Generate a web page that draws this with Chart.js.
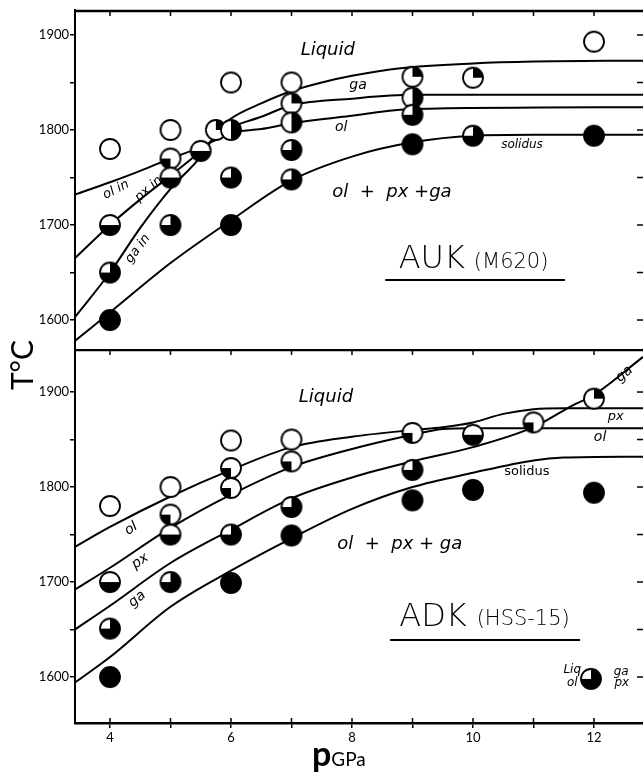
<!DOCTYPE html>
<html>
<head>
<meta charset="utf-8">
<script src="https://cdn.jsdelivr.net/npm/chart.js@4.4.1/dist/chart.umd.min.js"></script>
<style>
body { margin: 0; background: #fff; }
#wrap { position: relative; width: 643px; height: 774px; overflow: hidden; }
#topChart { position: absolute; left: 0; top: 0; }
#botChart { position: absolute; left: 0; top: 349px; }
#ylab { position: absolute; left: -15px; top: 348px; width: 70px; height: 34px; line-height: 34px;
        text-align: center; font: 30px Lato, sans-serif; transform: rotate(-90deg); }
#xlab { position: absolute; left: 312px; top: 736px; font-family: Lato, sans-serif; line-height: 34px; }
#xlab .p { font-size: 34px; font-weight: bold; }
#xlab .g { font-size: 19px; }
</style>
</head>
<body>
<div id="wrap">
  <canvas id="topChart" width="643" height="349"></canvas>
  <canvas id="botChart" width="643" height="425"></canvas>
  <div id="ylab">T°C</div>
  <div id="xlab"><span class="p">p</span><span class="g">GPa</span></div>
</div>
<script>
// axes
var xTicks = [4, 5, 6, 7, 8, 9, 10, 11, 12];
var xLabels = [4, 6, 8, 10, 12];
var tTicks = [1600, 1650, 1700, 1750, 1800, 1850, 1900];
var tLabels = [1600, 1700, 1800, 1900];

// AUK (M620) runs: pressure, temperature, symbol
var aukP = [4, 4, 4, 4, 5, 5, 5, 5, 5.5, 5.75, 6, 6, 6, 6, 7, 7, 7, 7, 7, 9, 9, 9, 9, 10, 10, 12, 12];
var aukT = [1780, 1700, 1650, 1600, 1800, 1770, 1750, 1700, 1778, 1800, 1850, 1800, 1750, 1700, 1850, 1828, 1808, 1779, 1748, 1856, 1834, 1816, 1785, 1855, 1794, 1893, 1794];
var aukSym = ['o', 'h', 'q', 'f', 'o', 'l', 'h', 'q', 'h', 'g', 'o', 'r', 'q', 'f', 'o', 'g', 'r', 'q', 'q', 'g', 'r', 'q', 'f', 'g', 'q', 'o', 'f'];

// AUK phase boundaries
var aukGaP = [3.42, 4, 4.5, 5, 5.5, 5.8, 6, 6.5, 7, 7.5, 8, 8.8, 10, 11, 12.81];
var aukGaT = [1603, 1650, 1697, 1738, 1772, 1800, 1812, 1828, 1841, 1850, 1857, 1865, 1870, 1872, 1873];
var aukPxP = [3.42, 4, 4.5, 5, 5.5, 5.8, 6, 6.5, 7, 8, 9, 12.81];
var aukPxT = [1665, 1700, 1727, 1752, 1778, 1796, 1803, 1814, 1826, 1833, 1837, 1837];
var aukOlP = [3.42, 4, 4.5, 5, 5.5, 5.8, 6, 6.5, 7, 8, 9, 12.81];
var aukOlT = [1732, 1745, 1757, 1770, 1782, 1791, 1797, 1801, 1807, 1815, 1822, 1824];
var aukSolP = [3.42, 4, 5, 6, 7, 8, 9, 10, 11, 12.81];
var aukSolT = [1578, 1608, 1660, 1705, 1747, 1772, 1787, 1794, 1795, 1795];

// ADK (HSS-15) runs
var adkP = [4, 4, 4, 4, 5, 5, 5, 5, 6, 6, 6, 6, 6, 7, 7, 7, 7, 9, 9, 9, 10, 10, 11, 12, 12];
var adkT = [1780, 1700, 1651, 1600, 1800, 1771, 1750, 1700, 1849, 1820, 1799, 1750, 1699, 1850, 1827, 1779, 1749, 1857, 1818, 1786, 1855, 1797, 1868, 1893, 1794];
var adkSym = ['o', 'h', 'q', 'f', 'o', 'l', 'h', 'q', 'o', 'l', 'l', 'q', 'f', 'o', 'l', 'q', 'f', 'l', 'q', 'f', 'h', 'f', 'l', 'g', 'f'];

// ADK phase boundaries
var adkOlP = [3.42, 4, 5, 6, 7, 8, 9, 9.5, 10, 10.5, 11, 11.5, 12.81];
var adkOlT = [1737, 1758, 1790, 1818, 1842, 1853, 1860, 1863, 1868, 1877, 1882, 1883, 1883];
var adkPxP = [3.42, 4, 5, 6, 7, 8, 9, 9.5, 10, 12.81];
var adkPxT = [1692, 1715, 1757, 1792, 1821, 1840, 1855, 1861, 1862, 1862];
var adkGaP = [3.42, 4, 5, 6, 7, 8, 9, 10, 11, 11.65, 12, 12.81];
var adkGaT = [1650, 1675, 1720, 1755, 1788, 1810, 1827, 1842, 1863, 1886, 1897, 1937];
var adkSolP = [3.42, 4, 5, 6, 7, 8, 9, 10, 11, 11.5, 12.81];
var adkSolT = [1594, 1621, 1674, 1712, 1746, 1777, 1800, 1815, 1828, 1831, 1832];

// key symbol (Liq ol ga px)
var keyP = [11.95];
var keyT = [1598];
var keySym = ['q'];

// quadrants black: [Liq (UL), ga (UR), ol (LL), px (LR)]
var quads = {
    o: [0, 0, 0, 0], f: [1, 1, 1, 1], h: [0, 0, 1, 1], q: [0, 1, 1, 1],
    g: [0, 1, 0, 0], r: [0, 1, 0, 1], l: [0, 0, 1, 0]
};

function makeSymbol(q) {
    var c = document.createElement("canvas");
    c.width = 24; c.height = 24;
    var g = c.getContext("2d");
    g.beginPath(); g.arc(12, 12, 10, 0, 2 * Math.PI);
    g.fillStyle = "#fff"; g.fill();
    var starts = [Math.PI, 1.5 * Math.PI, 0.5 * Math.PI, 0];
    g.fillStyle = "#000";
    q.forEach(function (on, i) {
        if (!on) return;
        g.beginPath(); g.moveTo(12, 12);
        g.arc(12, 12, 10.3, starts[i], starts[i] + 0.5 * Math.PI);
        g.closePath(); g.fill();
    });
    g.beginPath(); g.arc(12, 12, 10, 0, 2 * Math.PI);
    g.lineWidth = 1.8; g.strokeStyle = "#000"; g.stroke();
    return c;
}
var symbols = {};
Object.keys(quads).forEach(function (k) { symbols[k] = makeSymbol(quads[k]); });

var lab = 'italic 14px "DejaVu Sans"';
var small = 'italic 13px "DejaVu Sans"';
var aukNotes = [
    { text: "Liquid", p: 7.6, t: 1884, font: 'italic 18px "DejaVu Sans"' },
    { text: "ga", p: 8.1, t: 1847, font: lab },
    { text: "ol", p: 7.82, t: 1803, font: lab },
    { text: "solidus", p: 10.81, t: 1784, font: 'italic 12px "DejaVu Sans"' },
    { text: "ol  +  px +ga", p: 8.66, t: 1734, font: 'italic 18px "DejaVu Sans"' },
    { text: "ol in", p: 4.1, t: 1737, rot: -27, font: small },
    { text: "px in", p: 4.64, t: 1738, rot: -41, font: small },
    { text: "ga in", p: 4.46, t: 1675, rot: -53, font: small },
    { text: "AUK", p: 9.32, t: 1663, font: '200 32px "DejaVu Sans"' },
    { text: "(M620)", p: 10.63, t: 1661, font: '200 21px "DejaVu Sans"' },
    { rule: true, p0: 8.55, p1: 11.52, t: 1642 }
];
var adkNotes = [
    { text: "Liquid", p: 7.57, t: 1894, font: 'italic 18px "DejaVu Sans"' },
    { text: "ol", p: 4.35, t: 1756, rot: -33, font: lab },
    { text: "px", p: 4.5, t: 1722, rot: -35, font: lab },
    { text: "ga", p: 4.45, t: 1682, rot: -40, font: lab },
    { text: "solidus", p: 10.89, t: 1816, font: '13px "DejaVu Sans"' },
    { text: "ol  +  px + ga", p: 8.79, t: 1740, font: 'italic 18px "DejaVu Sans"' },
    { text: "ga", p: 12.5, t: 1919, rot: -40, font: lab },
    { text: "px", p: 12.36, t: 1874, font: 'italic 13px "DejaVu Sans"' },
    { text: "ol", p: 12.1, t: 1852, font: lab },
    { text: "Liq", p: 11.64, t: 1607, font: 'italic 12px "DejaVu Sans"' },
    { text: "ol", p: 11.64, t: 1594, font: 'italic 12px "DejaVu Sans"' },
    { text: "ga", p: 12.45, t: 1605, font: 'italic 12px "DejaVu Sans"' },
    { text: "px", p: 12.46, t: 1594, font: 'italic 12px "DejaVu Sans"' },
    { text: "ADK", p: 9.34, t: 1662, font: '200 32px "DejaVu Sans"' },
    { text: "(HSS-15)", p: 10.83, t: 1660, font: '200 21px "DejaVu Sans"' },
    { rule: true, p0: 8.63, p1: 11.77, t: 1639 }
];

// labels placed in data coordinates
var notesPlugin = {
    id: "notes",
    afterDatasetsDraw: function (chart, args, opts) {
        var ctx = chart.ctx, x = chart.scales.x, y = chart.scales.y;
        (opts.items || []).forEach(function (n) {
            ctx.save();
            ctx.fillStyle = "#000"; ctx.strokeStyle = "#000";
            if (n.rule) {
                ctx.lineWidth = 2;
                ctx.beginPath();
                ctx.moveTo(x.getPixelForValue(n.p0), y.getPixelForValue(n.t));
                ctx.lineTo(x.getPixelForValue(n.p1), y.getPixelForValue(n.t));
                ctx.stroke();
            } else {
                ctx.translate(x.getPixelForValue(n.p), y.getPixelForValue(n.t));
                ctx.rotate((n.rot || 0) * Math.PI / 180);
                ctx.font = n.font;
                ctx.textAlign = "center"; ctx.textBaseline = "middle";
                ctx.fillText(n.text, 0, 0);
            }
            ctx.restore();
        });
    }
};

// top edge + inward ticks on top and right
var framePlugin = {
    id: "frame",
    afterDraw: function (chart, args, opts) {
        var ctx = chart.ctx, a = chart.chartArea, x = chart.scales.x, y = chart.scales.y;
        ctx.save();
        ctx.strokeStyle = "#000";
        ctx.lineWidth = 2.5;
        ctx.beginPath(); ctx.moveTo(a.left - 1, a.top + 1); ctx.lineTo(a.right, a.top + 1); ctx.stroke();
        ctx.lineWidth = 1.5;
        xTicks.forEach(function (v) {
            var px = x.getPixelForValue(v);
            ctx.beginPath(); ctx.moveTo(px, a.top); ctx.lineTo(px, a.top + 6); ctx.stroke();
            if (opts.bottom) {
                ctx.beginPath(); ctx.moveTo(px, a.bottom); ctx.lineTo(px, a.bottom - 5); ctx.stroke();
            }
        });
        tTicks.forEach(function (v) {
            var py = y.getPixelForValue(v);
            ctx.beginPath(); ctx.moveTo(a.right - 6, py); ctx.lineTo(a.right, py); ctx.stroke();
        });
        ctx.restore();
    }
};

Chart.defaults.font.family = "Lato";
Chart.defaults.font.size = 13;
Chart.defaults.color = "#000";

function pts(P, T) {
    return P.map(function (p, i) { return { x: p, y: T[i] }; });
}

function curve(P, T) {
    return {
        data: pts(P, T), showLine: true, borderColor: "#000", borderWidth: 2,
        pointRadius: 0, cubicInterpolationMode: "monotone", fill: false, order: 2
    };
}

function marks(P, T, S) {
    return {
        data: pts(P, T), order: 0, pointRadius: 10, clip: false,
        pointStyle: function (c) { return symbols[S[c.dataIndex]]; }
    };
}

function phaseChart(id, datasets, notes, yMin, yMax, bottom) {
    return new Chart(document.getElementById(id).getContext("2d"), {
        type: "scatter",
        data: { datasets: datasets },
        options: {
            responsive: false,
            animation: false,
            events: [],
            layout: { autoPadding: false, padding: { top: bottom ? 0 : 10, left: 0, right: 0, bottom: 0 } },
            plugins: {
                legend: { display: false },
                tooltip: { enabled: false },
                notes: { items: notes },
                frame: { bottom: bottom }
            },
            scales: {
                x: {
                    type: "linear", min: 3.4215, max: 12.81, display: bottom,
                    afterBuildTicks: function (s) { s.ticks = xTicks.map(function (v) { return { value: v }; }); },
                    afterFit: function (s) {
                        s.height = bottom ? 51 : 0;
                        s.paddingLeft = 0; s.paddingRight = 0;
                    },
                    border: { color: "#000", width: 2.5 },
                    grid: { drawOnChartArea: false, drawTicks: true, tickLength: 5, color: "#000", lineWidth: 1.5 },
                    ticks: {
                        padding: 2, maxRotation: 0, autoSkip: false,
                        callback: function (v) { return xLabels.indexOf(v) >= 0 ? String(v) : ""; }
                    }
                },
                y: {
                    type: "linear", min: yMin, max: yMax,
                    afterBuildTicks: function (s) { s.ticks = tTicks.map(function (v) { return { value: v }; }); },
                    afterFit: function (s) {
                        s.width = 75;
                        s.paddingTop = 0; s.paddingBottom = 0;
                    },
                    border: { color: "#000", width: 2 },
                    grid: { drawOnChartArea: false, drawTicks: true, tickLength: 5, color: "#000", lineWidth: 1.5 },
                    ticks: {
                        padding: 1, autoSkip: false,
                        callback: function (v) { return tLabels.indexOf(v) >= 0 ? String(v) : ""; }
                    }
                }
            }
        },
        plugins: [framePlugin, notesPlugin]
    });
}

phaseChart("topChart", [
    marks(aukP, aukT, aukSym),
    curve(aukGaP, aukGaT),
    curve(aukPxP, aukPxT),
    curve(aukOlP, aukOlT),
    curve(aukSolP, aukSolT)
], aukNotes, 1569.5, 1926.3, false);

phaseChart("botChart", [
    marks(adkP, adkT, adkSym),
    marks(keyP, keyT, keySym),
    curve(adkOlP, adkOlT),
    curve(adkPxP, adkPxT),
    curve(adkGaP, adkGaT),
    curve(adkSolP, adkSolT)
], adkNotes, 1551.6, 1945.3, true);
</script>
</body>
</html>
